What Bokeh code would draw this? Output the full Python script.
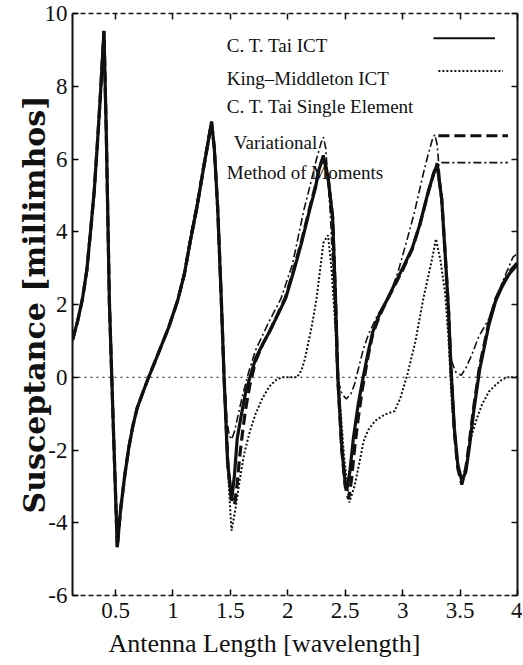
from bokeh.plotting import figure
from bokeh.models import (LinearAxis, FixedTicker, Span, Label, Arrow, Title, Range1d)
from bokeh.embed import file_html
from bokeh.resources import INLINE

# ---------------- data ----------------
x_ticks = [0.5, 1, 1.5, 2, 2.5, 3, 3.5, 4]
x_tick_labels = ["0.5", "1", "1.5", "2", "2.5", "3", "3.5", "4"]
y_ticks = [-6, -4, -2, 0, 2, 4, 6, 8, 10]
y_tick_labels = ["-6", "-4", "-2", "0", "2", "4", "6", "8", "10"]

# part shared by all four curves (0.125 .. 1.04)
common_x = [0.125, 0.17, 0.212, 0.25, 0.284, 0.315, 0.342, 0.365, 0.385, 0.399,
            0.42, 0.446, 0.48, 0.515, 0.543, 0.58, 0.615, 0.65, 0.688, 0.74,
            0.788, 0.84, 0.889, 0.96, 1.04]
common_y = [1.02, 1.55, 2.16, 2.95, 4.07, 5.15, 6.44, 7.6, 8.72, 9.52,
            6.6, 2.1, -1.3, -4.67, -3.66, -2.7, -1.94, -1.35, -0.85, -0.4,
            0.0, 0.4, 0.79, 1.35, 2.1]

# C. T. Tai ICT
tai_x = [1.10, 1.149, 1.21, 1.264, 1.30, 1.336, 1.36, 1.39, 1.42, 1.445,
         1.475, 1.51, 1.535, 1.56, 1.60, 1.634, 1.68, 1.72, 1.78, 1.84,
         1.91, 1.98, 2.05, 2.12, 2.19, 2.24, 2.27, 2.31, 2.35, 2.39,
         2.415, 2.435, 2.47, 2.50, 2.515, 2.54, 2.57, 2.61, 2.65, 2.70,
         2.74, 2.80, 2.86, 2.91, 3.00, 3.08, 3.15, 3.22, 3.27, 3.30,
         3.34, 3.37, 3.40, 3.42, 3.45, 3.48, 3.515, 3.55, 3.58, 3.62,
         3.67, 3.75, 3.81, 3.87, 3.93, 4.00]
tai_y = [2.85, 3.71, 4.7, 5.71, 6.35, 7.03, 6.3, 4.6, 2.2, 0.0,
         -2.3, -3.4, -2.7, -1.67, -0.95, -0.39, 0.1, 0.52, 0.9, 1.25,
         1.7, 2.16, 2.9, 3.7, 4.6, 5.2, 5.7, 6.07, 5.5, 4.4,
         2.2, 0.0, -1.94, -2.94, -3.08, -2.6, -1.7, -0.8, -0.1, 0.7,
         1.25, 1.75, 2.1, 2.43, 3.0, 3.52, 4.2, 5.07, 5.6, 5.85,
         4.9, 3.4, 1.8, 0.3, -1.4, -2.4, -2.85, -2.6, -1.94, -0.9,
         0.2, 1.43, 2.1, 2.52, 2.85, 3.1]

# King-Middleton ICT
km_x = [1.10, 1.149, 1.21, 1.264, 1.30, 1.336, 1.36, 1.39, 1.42, 1.445,
        1.475, 1.51, 1.545, 1.58, 1.62, 1.67, 1.72, 1.78, 1.84, 1.90,
        1.95, 2.08, 2.12, 2.15, 2.21, 2.25, 2.31, 2.35, 2.38, 2.41,
        2.45, 2.49, 2.535, 2.58, 2.62, 2.66, 2.70, 2.76, 2.84, 2.93,
        2.98, 3.04, 3.11, 3.18, 3.25, 3.29, 3.33, 3.37, 3.40, 3.43,
        3.47, 3.52, 3.56, 3.60, 3.65, 3.69, 3.75, 3.81, 3.87, 3.92, 4.00]
km_y = [2.8, 3.65, 4.65, 5.65, 6.3, 6.95, 6.2, 4.5, 2.1, 0.0,
        -2.4, -4.22, -3.6, -2.85, -2.1, -1.48, -1.0, -0.57, -0.25, -0.07,
        0.0, 0.0, 0.2, 0.52, 1.43, 2.16, 3.7, 3.9, 3.0, 1.6,
        -0.5, -2.2, -3.44, -3.0, -2.4, -1.76, -1.45, -1.2, -1.03, -0.93,
        -0.57, 0.06, 0.97, 2.16, 3.16, 3.8, 3.2, 2.3, 1.0, -0.8,
        -2.2, -2.85, -2.3, -1.6, -1.1, -0.76, -0.4, -0.21, -0.05, 0.0, 0.0]

# C. T. Tai Single Element Variational
var_x = [1.10, 1.149, 1.21, 1.264, 1.30, 1.336, 1.36, 1.39, 1.42, 1.445,
         1.48, 1.51, 1.537, 1.56, 1.58, 1.61, 1.634, 1.67, 1.72, 1.78,
         1.84, 1.91, 1.98, 2.05, 2.12, 2.19, 2.24, 2.27, 2.31, 2.35,
         2.39, 2.415, 2.435, 2.47, 2.50, 2.53, 2.555, 2.58, 2.61, 2.65,
         2.70, 2.74, 2.80, 2.86, 2.91, 3.00, 3.08, 3.15, 3.22, 3.27,
         3.30, 3.34, 3.37, 3.40, 3.42, 3.45, 3.48, 3.515, 3.55, 3.58,
         3.62, 3.67, 3.75, 3.81, 3.87, 3.93, 4.00]
var_y = [2.85, 3.71, 4.7, 5.71, 6.35, 7.0, 6.3, 4.6, 2.2, 0.0,
         -2.5, -3.3, -3.5, -2.9, -2.2, -1.4, -0.85, -0.2, 0.45, 0.9,
         1.25, 1.72, 2.2, 2.95, 3.75, 4.65, 5.25, 5.7, 6.1, 5.5,
         4.4, 2.2, 0.0, -2.0, -3.0, -3.35, -2.8, -2.0, -1.2, -0.3,
         0.6, 1.2, 1.7, 2.1, 2.4, 2.95, 3.5, 4.2, 5.05, 5.6,
         5.88, 4.9, 3.4, 1.8, 0.3, -1.5, -2.5, -2.95, -2.5, -1.8,
         -0.8, 0.3, 1.5, 2.15, 2.55, 2.9, 3.15]

# Method of Moments
mom_x = [1.10, 1.149, 1.21, 1.264, 1.30, 1.33, 1.36, 1.39, 1.42, 1.445,
         1.47, 1.49, 1.51, 1.535, 1.57, 1.61, 1.66, 1.72, 1.78, 1.84,
         1.94, 2.04, 2.14, 2.20, 2.25, 2.29, 2.31, 2.33, 2.37, 2.40,
         2.43, 2.47, 2.51, 2.55, 2.58, 2.62, 2.66, 2.70, 2.78, 2.88,
         2.96, 3.04, 3.10, 3.18, 3.22, 3.26, 3.28, 3.30, 3.34, 3.37,
         3.40, 3.42, 3.46, 3.51, 3.55, 3.60, 3.66, 3.75, 3.81, 3.88,
         3.96, 4.00]
mom_y = [2.95, 3.85, 4.85, 5.85, 6.5, 7.0, 6.35, 4.6, 2.2, 0.0,
         -1.2, -1.6, -1.71, -1.5, -1.0, -0.45, 0.15, 0.75, 1.15, 1.55,
         2.16, 3.1, 4.6, 5.35, 6.0, 6.45, 6.6, 6.3, 4.5, 2.5,
         0.0, -0.45, -0.6, -0.45, -0.2, 0.3, 0.8, 1.16, 1.7, 2.2,
         2.9, 3.8, 4.5, 5.6, 6.1, 6.55, 6.67, 6.4, 4.9, 3.3,
         1.7, 0.5, 0.15, 0.05, 0.25, 0.6, 1.1, 1.6, 2.16, 2.7,
         3.3, 3.4]

legend_names = ["C. T. Tai ICT", "King\u2013Middleton ICT",
                "C. T. Tai Single Element", " Variational", "Method of Moments"]
x_title = "Antenna Length [wavelength]"
y_title = "Susceptance [millimhos]"

# ---------------- styling ----------------
SERIF = "Liberation Serif"
BLACK = "#111111"

p = figure(width=522, height=664,
           x_range=Range1d(0.125, 4.0), y_range=Range1d(-6, 10),
           output_backend="svg", toolbar_location=None,
           min_border_left=72, min_border_right=5,
           min_border_top=13, min_border_bottom=69)
p.grid.visible = False
p.outline_line_color = None
p.background_fill_color = "white"
p.border_fill_color = "white"

# bottom axis
xa = p.xaxis[0]
xa.ticker = FixedTicker(ticks=x_ticks)
xa.major_label_overrides = {float(t): s for t, s in zip(x_ticks, x_tick_labels)}
xa.major_label_text_font = SERIF
xa.major_label_text_font_size = "23px"
xa.major_label_text_color = BLACK
xa.major_label_standoff = 7
xa.major_tick_in = 6
xa.major_tick_out = 0
xa.minor_tick_line_color = None
xa.major_tick_line_width = 1.5
xa.axis_line_width = 1.5
xa.axis_line_dash = "5 3"
xa.axis_line_color = BLACK

# left axis
ya = p.yaxis[0]
ya.ticker = FixedTicker(ticks=y_ticks)
ya.major_label_overrides = {float(t): s for t, s in zip(y_ticks, y_tick_labels)}
ya.major_label_text_font = SERIF
ya.major_label_text_font_size = "23px"
ya.major_label_text_color = BLACK
ya.major_label_standoff = 5
ya.major_tick_in = 6
ya.major_tick_out = 0
ya.minor_tick_line_color = None
ya.major_tick_line_width = 1.5
ya.axis_line_width = 2
ya.axis_line_color = BLACK
ya.axis_label = y_title
ya.axis_label_text_font = "DejaVu Serif"
ya.axis_label_text_font_style = "bold"
ya.axis_label_text_font_size = "30px"
ya.axis_label_text_color = BLACK
ya.axis_label_standoff = -10

# top and right frame edges: inward ticks only (drawn as minor ticks, no labels)
top = LinearAxis(ticker=FixedTicker(ticks=[], minor_ticks=x_ticks),
                 minor_tick_in=6, minor_tick_out=0, minor_tick_line_width=1.5,
                 minor_tick_line_color=BLACK, major_tick_line_color=None,
                 axis_line_dash="5 3", axis_line_width=1.5, axis_line_color=BLACK)
p.add_layout(top, "above")
right = LinearAxis(ticker=FixedTicker(ticks=[], minor_ticks=y_ticks),
                   minor_tick_in=6, minor_tick_out=0, minor_tick_line_width=1.5,
                   minor_tick_line_color=BLACK, major_tick_line_color=None,
                   axis_line_width=2, axis_line_color=BLACK)
p.add_layout(right, "right")

# x-axis title (offset to the left like the original)
xt = Title(text=x_title, align="left", offset=36,
           text_font=SERIF, text_font_size="26px", text_font_style="normal",
           text_color=BLACK, standoff=12)
p.add_layout(xt, "below")

# zero line
p.add_layout(Span(location=0, dimension="width", line_color=BLACK,
                  line_dash="2 4", line_width=1))

# curves
p.line(common_x + tai_x, common_y + tai_y, line_color=BLACK, line_width=3.2)
p.line(common_x + var_x, common_y + var_y, line_color=BLACK, line_width=3.2,
       line_dash="11 5")
p.line(common_x + km_x, common_y + km_y, line_color=BLACK, line_width=2,
       line_dash="2 2")
p.line(common_x + mom_x, common_y + mom_y, line_color=BLACK, line_width=1.6,
       line_dash="8 3 2 3")

# legend (text on the left, line samples on the right)
text_x = [1.469, 1.469, 1.469, 1.53, 1.469]
text_y = [9.13, 8.22, 7.43, 6.45, 5.63]
for tx, ty, name in zip(text_x, text_y, legend_names):
    p.add_layout(Label(x=tx, y=ty, text=name, text_baseline="middle",
                       text_font=SERIF, text_font_size="19px", text_color=BLACK))

samples = [
    (3.268, 3.804, 9.32, 2.2, "solid"),
    (3.311, 3.874, 8.42, 2.0, "2 2"),
    (3.311, 3.917, 6.64, 3.0, "11 5"),
    (3.337, 3.917, 5.90, 1.6, "8 3 2 3"),
]
for xs, xe, yy, lw, dash in samples:
    p.add_layout(Arrow(x_start=xs, y_start=yy, x_end=xe, y_end=yy, start=None, end=None,
                       line_color=BLACK, line_width=lw, line_dash=dash))

open("out.html", "w").write(file_html(p, INLINE))
